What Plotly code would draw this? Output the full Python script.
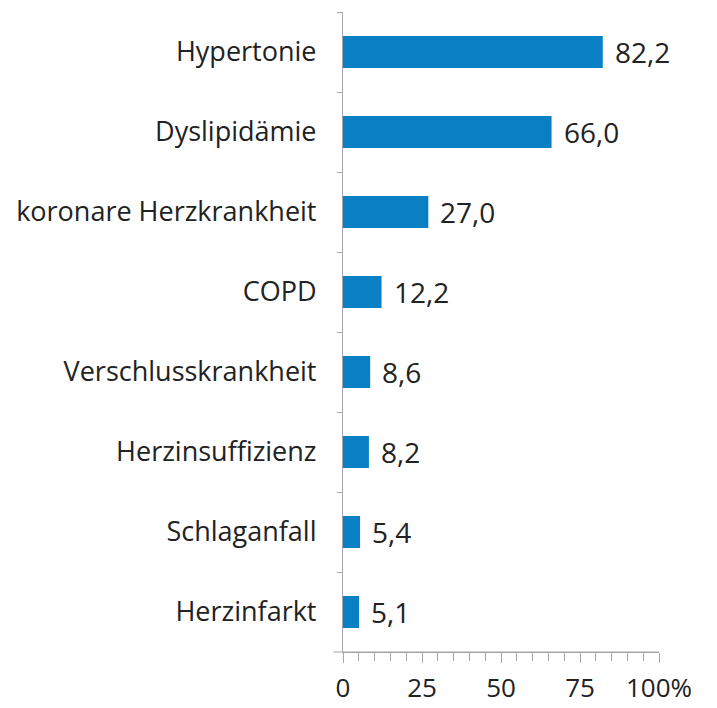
import plotly.graph_objects as go

categories = ["Hypertonie", "Dyslipidämie", "koronare Herzkrankheit", "COPD",
              "Verschlusskrankheit", "Herzinsuffizienz", "Schlaganfall", "Herzinfarkt"]
values = [82.2, 66.0, 27.0, 12.2, 8.6, 8.2, 5.4, 5.1]
tick_vals = [0, 25, 50, 75, 100]
tick_text = ["0", "25", "50", "75", "100%"]

FONT = "Open Sans"
TXT = "#222222"
AX = "#a6a6a6"
LBL = 27
NUM = 28

fig = go.Figure()
fig.add_trace(go.Bar(
    y=categories, x=values, orientation="h",
    marker=dict(color="#0b7fc3", line=dict(width=0)),
    hoverinfo="skip",
))

for c, v in zip(categories, values):
    fig.add_annotation(x=v, y=c, text=f"{v:.1f}".replace(".", ","),
                       xanchor="left", yanchor="middle", xshift=10, showarrow=False,
                       font=dict(family=FONT, size=NUM, color=TXT))

fig.add_shape(type="line", xref="x domain", yref="y domain", x0=-0.03, x1=1.0, y0=0, y1=0,
              line=dict(color=AX, width=1.2))

fig.update_layout(
    width=709, height=700,
    margin=dict(l=335, r=58, t=4, b=56, autoexpand=False),
    paper_bgcolor="white", plot_bgcolor="white",
    bargap=0.6, showlegend=False,
    font=dict(family=FONT, size=LBL, color=TXT),
    xaxis=dict(range=[0, 100], tickvals=tick_vals, ticktext=tick_text,
               showgrid=False, zeroline=False, showline=True, linecolor=AX, linewidth=1.2,
               ticks="outside", ticklen=10, tickcolor=AX, tickwidth=1.2,
               minor=dict(ticks="outside", ticklen=8, dtick=5, tickcolor=AX, tickwidth=1.2, showgrid=False),
               tickfont=dict(family=FONT, size=26, color=TXT), ticklabelstandoff=3,
               automargin=False),
    yaxis=dict(categoryorder="array", categoryarray=categories, autorange="reversed",
               showgrid=False, zeroline=False, showline=True, linecolor=AX, linewidth=1.2,
               ticks="outside", ticklen=5, tickcolor=AX, tickson="boundaries",
               tickfont=dict(family=FONT, size=LBL, color=TXT), ticklabelstandoff=20,
               automargin=False),
)

fig.write_html("out.html")
